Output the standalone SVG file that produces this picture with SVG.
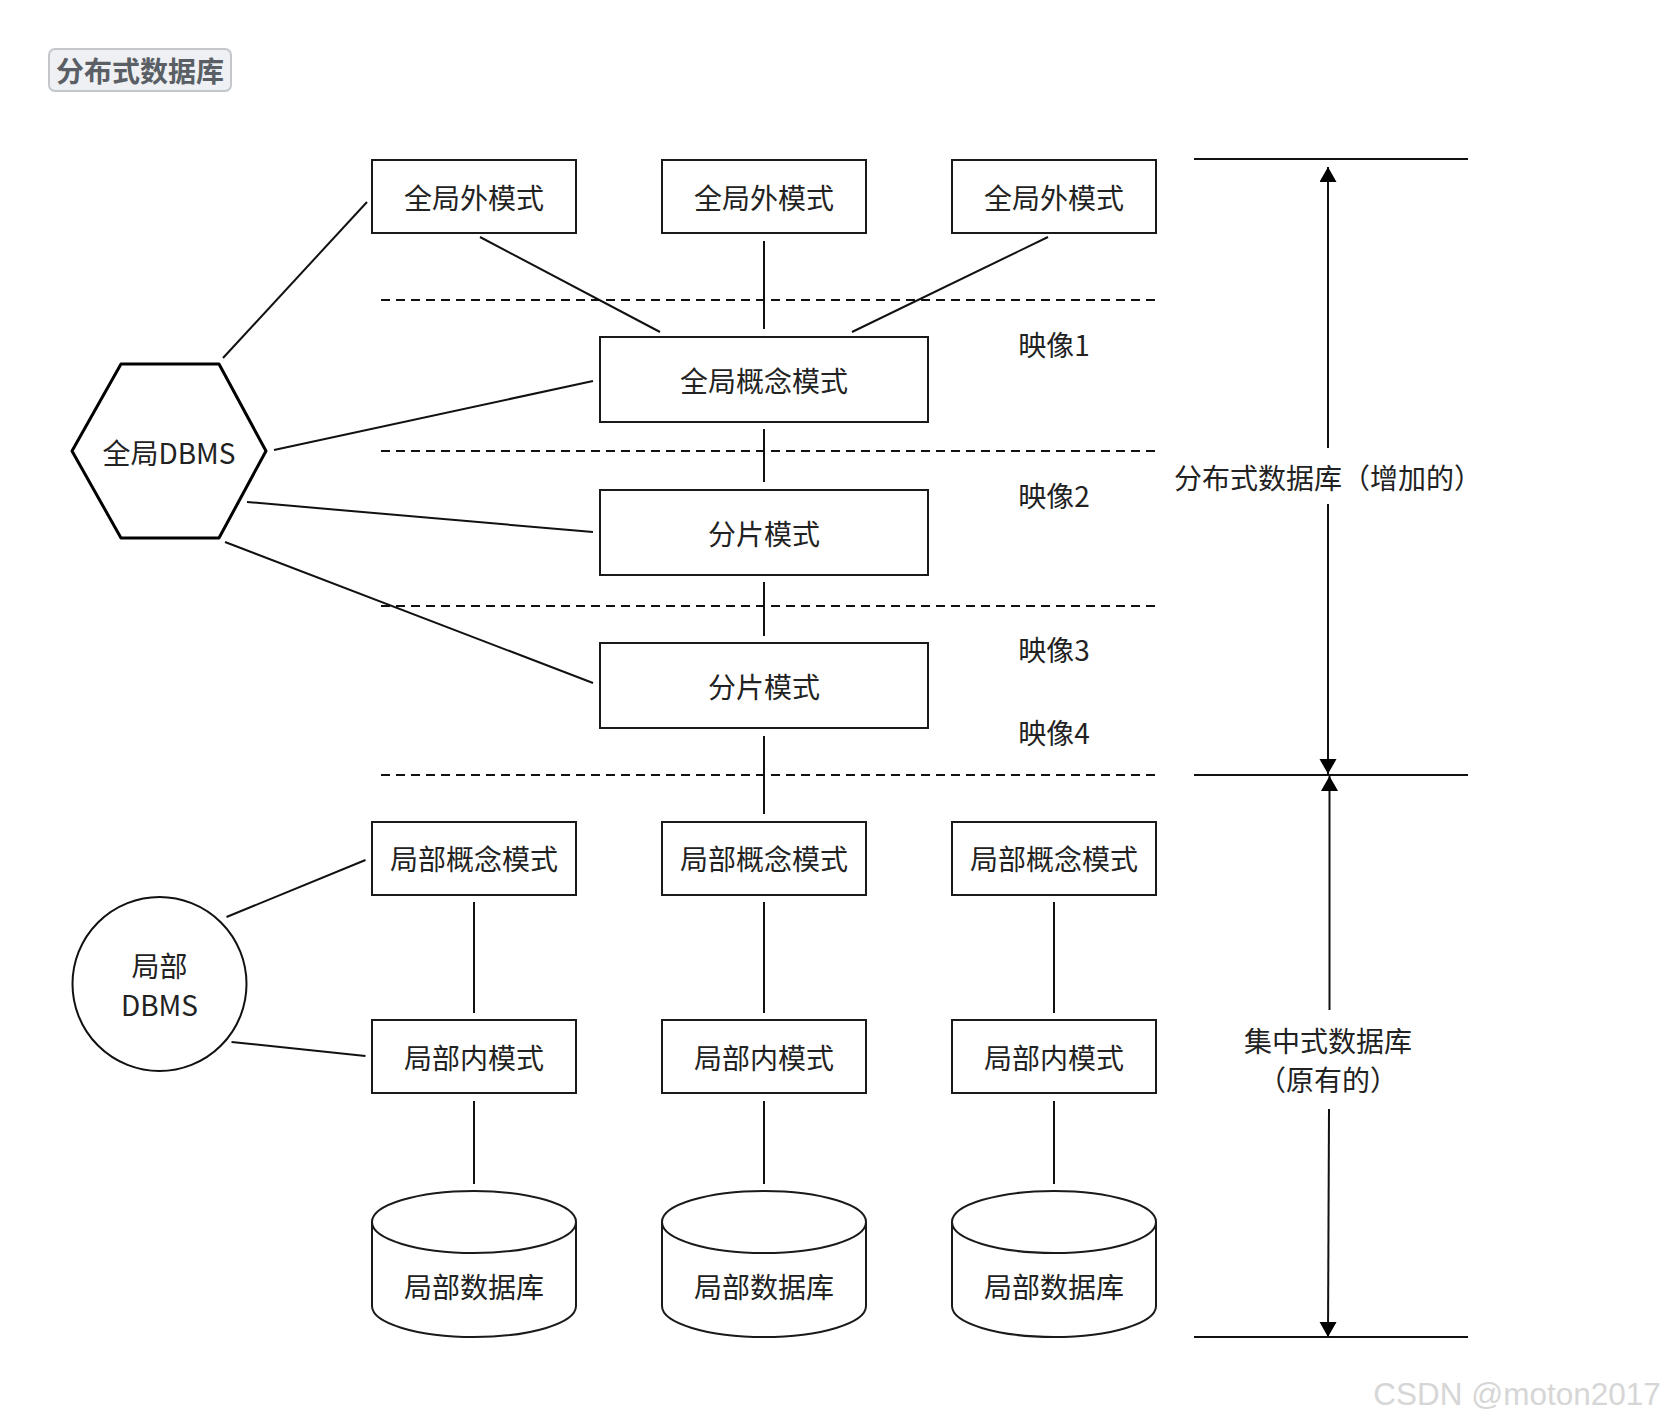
<svg xmlns="http://www.w3.org/2000/svg" width="1666" height="1424" viewBox="0 0 1666 1424">
<style>
.bx{fill:#fff;stroke:#1a1a1a;stroke-width:2}
.t{font-family:"Noto Sans CJK SC","Noto Sans",sans-serif;font-size:28px;fill:#222;text-anchor:middle}
.ln{stroke:#111;stroke-width:2;fill:none}
.ds{stroke:#111;stroke-width:2;stroke-dasharray:9 6;fill:none}
</style>
<defs>
<marker id="ah" markerUnits="userSpaceOnUse" markerWidth="16" markerHeight="18" refX="15" refY="8.5" orient="auto">
<path d="M0,0 L15,8.5 L0,17 z" fill="#000"/>
</marker>
</defs>
<rect width="1666" height="1424" fill="#fff"/>
<g id="title">
<rect x="49" y="49" width="182" height="42" rx="6" fill="#eef0f3" stroke="#c3c7cc" stroke-width="2"/>
<text x="140" y="82" class="t" style="font-weight:bold;fill:#5a5f66">分布式数据库</text>
</g>
<g id="connectors">
<line class="ds" x1="381" y1="300" x2="1156" y2="300"/>
<line class="ds" x1="381" y1="451" x2="1156" y2="451"/>
<line class="ds" x1="381" y1="606" x2="1156" y2="606"/>
<line class="ds" x1="381" y1="775" x2="1156" y2="775"/>
<line class="ln" x1="480" y1="237" x2="660" y2="332"/>
<line class="ln" x1="764" y1="241" x2="764" y2="329"/>
<line class="ln" x1="1048" y1="237" x2="852" y2="332"/>
<line class="ln" x1="764" y1="429" x2="764" y2="482"/>
<line class="ln" x1="764" y1="582" x2="764" y2="636"/>
<line class="ln" x1="764" y1="736" x2="764" y2="814"/>
<line class="ln" x1="223" y1="358" x2="367" y2="202"/>
<line class="ln" x1="274" y1="450" x2="593" y2="381"/>
<line class="ln" x1="247" y1="502" x2="593" y2="532"/>
<line class="ln" x1="225" y1="542" x2="593" y2="683"/>
<line class="ln" x1="226.5" y1="917" x2="365.5" y2="860"/>
<line class="ln" x1="231.5" y1="1042" x2="365.5" y2="1056"/>
<line class="ln" x1="474" y1="902" x2="474" y2="1013"/>
<line class="ln" x1="764" y1="902" x2="764" y2="1013"/>
<line class="ln" x1="1054" y1="902" x2="1054" y2="1013"/>
<line class="ln" x1="474" y1="1101" x2="474" y2="1184"/>
<line class="ln" x1="764" y1="1101" x2="764" y2="1184"/>
<line class="ln" x1="1054" y1="1101" x2="1054" y2="1184"/>
<line class="ln" x1="1194" y1="159" x2="1468" y2="159"/>
<line class="ln" x1="1194" y1="775" x2="1468" y2="775"/>
<line class="ln" x1="1194" y1="1337" x2="1468" y2="1337"/>
<line class="ln" x1="1328" y1="448" x2="1328" y2="167" marker-end="url(#ah)"/>
<line class="ln" x1="1328" y1="504" x2="1328" y2="774" marker-end="url(#ah)"/>
<line class="ln" x1="1329.5" y1="1010" x2="1329.5" y2="776" marker-end="url(#ah)"/>
<line class="ln" x1="1329" y1="1109" x2="1328" y2="1337" marker-end="url(#ah)"/>
</g>
<g id="ext1"><rect class="bx" x="372" y="160" width="204" height="73"/><text class="t" x="474" y="209">全局外模式</text></g>
<g id="ext2"><rect class="bx" x="662" y="160" width="204" height="73"/><text class="t" x="764" y="209">全局外模式</text></g>
<g id="ext3"><rect class="bx" x="952" y="160" width="204" height="73"/><text class="t" x="1054" y="209">全局外模式</text></g>
<g id="gconcept"><rect class="bx" x="600" y="337" width="328" height="85"/><text class="t" x="764" y="392">全局概念模式</text></g>
<g id="frag1"><rect class="bx" x="600" y="490" width="328" height="85"/><text class="t" x="764" y="545">分片模式</text></g>
<g id="frag2"><rect class="bx" x="600" y="643" width="328" height="85"/><text class="t" x="764" y="698">分片模式</text></g>
<g id="gdbms"><polygon points="121,364 219,364 266,451 219,538 121,538 72,451" fill="#fff" stroke="#000" stroke-width="3" stroke-linejoin="round"/><text class="t" x="169" y="464">全局DBMS</text></g>
<g id="maps">
<text class="t" x="1054" y="356">映像1</text>
<text class="t" x="1054" y="507">映像2</text>
<text class="t" x="1054" y="661">映像3</text>
<text class="t" x="1054" y="744">映像4</text>
</g>
<g id="lconcept1"><rect class="bx" x="372" y="822" width="204" height="73"/><text class="t" x="474" y="870">局部概念模式</text></g>
<g id="lconcept2"><rect class="bx" x="662" y="822" width="204" height="73"/><text class="t" x="764" y="870">局部概念模式</text></g>
<g id="lconcept3"><rect class="bx" x="952" y="822" width="204" height="73"/><text class="t" x="1054" y="870">局部概念模式</text></g>
<g id="linternal1"><rect class="bx" x="372" y="1020" width="204" height="73"/><text class="t" x="474" y="1069">局部内模式</text></g>
<g id="linternal2"><rect class="bx" x="662" y="1020" width="204" height="73"/><text class="t" x="764" y="1069">局部内模式</text></g>
<g id="linternal3"><rect class="bx" x="952" y="1020" width="204" height="73"/><text class="t" x="1054" y="1069">局部内模式</text></g>
<g id="ldbms"><circle cx="159.5" cy="984" r="87" fill="#fff" stroke="#111" stroke-width="2"/><text class="t" x="159.5" y="977">局部</text><text class="t" x="159.5" y="1016">DBMS</text></g>
<g id="db1"><path class="bx" d="M372,1222 V1306 A102,31 0 0 0 576,1306 V1222"/><ellipse class="bx" cx="474" cy="1222" rx="102" ry="31"/><text class="t" x="474" y="1298">局部数据库</text></g>
<g id="db2"><path class="bx" d="M662,1222 V1306 A102,31 0 0 0 866,1306 V1222"/><ellipse class="bx" cx="764" cy="1222" rx="102" ry="31"/><text class="t" x="764" y="1298">局部数据库</text></g>
<g id="db3"><path class="bx" d="M952,1222 V1306 A102,31 0 0 0 1156,1306 V1222"/><ellipse class="bx" cx="1054" cy="1222" rx="102" ry="31"/><text class="t" x="1054" y="1298">局部数据库</text></g>
<g id="labels">
<text class="t" x="1328" y="489">分布式数据库（增加的）</text>
<text class="t" x="1328" y="1052">集中式数据库</text>
<text class="t" x="1328" y="1091">（原有的）</text>
</g>
<text x="1517" y="1405" style="font-family:'Liberation Sans',Arial,sans-serif;font-size:31.5px;fill:#d6d6d6;text-anchor:middle">CSDN @moton2017</text>
</svg>
